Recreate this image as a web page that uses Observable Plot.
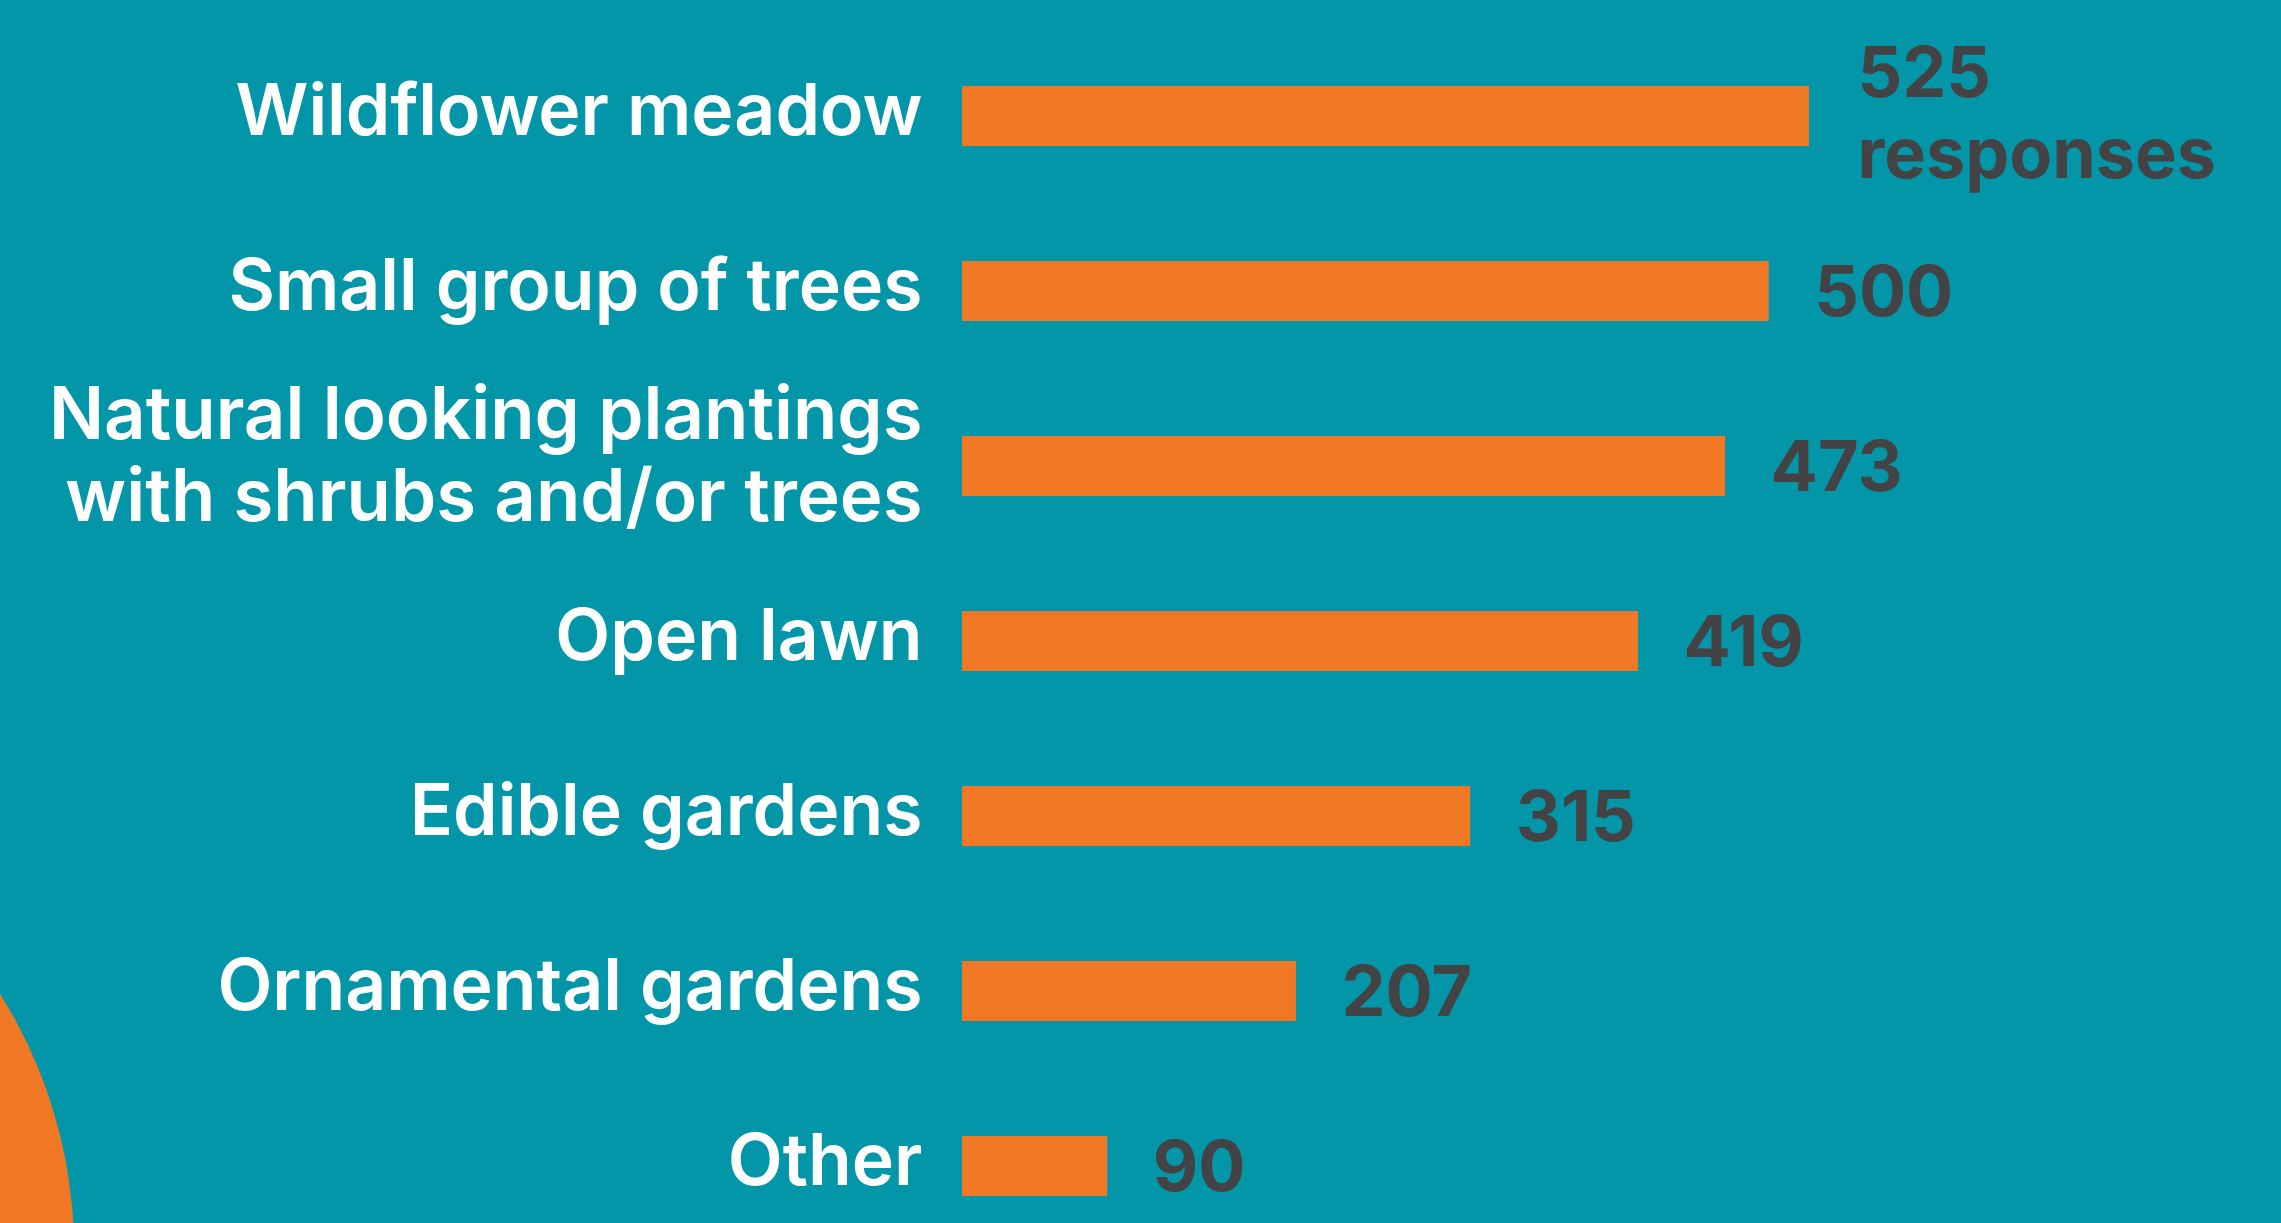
<!DOCTYPE html>
<html>
<head>
<meta charset="utf-8">
<script src="https://cdn.jsdelivr.net/npm/d3@7"></script>
<script src="https://cdn.jsdelivr.net/npm/@observablehq/plot@0.6"></script>
<style>
  html, body { margin: 0; padding: 0; width: 2281px; height: 1223px; overflow: hidden; background: #0396a8; }
  #wrap { position: relative; width: 2281px; height: 1223px; }
  #blob { position: absolute; left: -886px; top: 770px; width: 960px; height: 960px; border-radius: 50%; background: #f07824; }
  #chart { position: absolute; left: 0; top: 0; }
</style>
</head>
<body>
<div id="wrap">
  <div id="blob"></div>
  <div id="chart"></div>
</div>
<script>
const categories = [
  "Wildflower meadow",
  "Small group of trees",
  "Natural looking plantings\nwith shrubs and/or trees",
  "Open lawn",
  "Edible gardens",
  "Ornamental gardens",
  "Other"
];
const responses = [525, 500, 473, 419, 315, 207, 90];
const valueLabels = ["525\nresponses", "500", "473", "419", "315", "207", "90"];

const data = categories.map((c, i) => ({category: c, value: responses[i], label: valueLabels[i]}));
const single = d => !d.category.includes("\n");
const multi = d => d.category.includes("\n");
const vSingle = d => !d.label.includes("\n");
const vMulti = d => d.label.includes("\n");

const font = "Inter, 'Open Sans', sans-serif";

const chart = Plot.plot({
  width: 2281,
  height: 1223,
  marginLeft: 962,
  marginRight: 351,
  marginTop: 58,
  marginBottom: 0,
  style: {background: "transparent", fontFamily: font, overflow: "visible"},
  x: {domain: [0, 600], axis: null},
  y: {domain: categories, axis: null, paddingInner: 0.659, paddingOuter: 0.143},
  marks: [
    Plot.barX(data, {x: "value", y: "category", fill: "#f07824"}),
    Plot.text(data.filter(single), {
      x: 0, y: "category", text: "category", textAnchor: "end", dx: -40, dy: -4,
      fill: "white", fontSize: 71.5, fontWeight: 600, fontFamily: font
    }),
    Plot.text(data.filter(multi), {
      x: 0, y: "category", text: "category", textAnchor: "end", dx: -40, dy: -13,
      lineHeight: 1.13, fill: "white", fontSize: 72.5, fontWeight: 600, fontFamily: font
    }),
    Plot.text(data.filter(vSingle), {
      x: "value", y: "category", text: "label", textAnchor: "start", dx: 45, dy: 2,
      fill: "#434345", fontSize: 70, fontWeight: 700, fontFamily: font
    }),
    Plot.text(data.filter(vMulti), {
      x: "value", y: "category", text: "label", textAnchor: "start", dx: 48, dy: -5,
      lineHeight: 1.15, fill: "#434345", fontSize: 70, fontWeight: 700, fontFamily: font
    })
  ]
});
document.getElementById("chart").appendChild(chart);
</script>
</body>
</html>
